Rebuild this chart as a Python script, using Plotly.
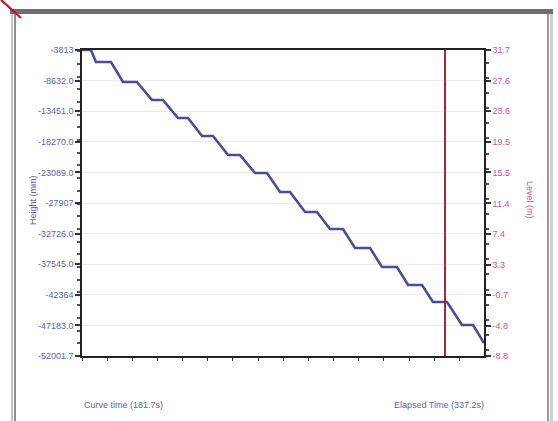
import plotly.graph_objects as go

# Staircase curve: elapsed time (s) vs depth
time_s = [0, 7.5, 11.7, 24.3, 34.4, 46.1, 58.7, 67.9, 80.5, 88.9, 100.7, 109.9,
          122.5, 132.5, 145.1, 155.2, 166.1, 174.5, 187.1, 197.1, 208.0, 218.9,
          229.0, 241.6, 251.6, 264.2, 273.5, 285.2, 294.4, 306.2, 318.7, 328.0, 337.2]
depth = [-3813, -3813, -5703, -5703, -8852, -8852, -11687, -11687, -14522, -14522,
         -17356, -17356, -20348, -20348, -23183, -23183, -26175, -26175, -29325, -29325,
         -32002, -32002, -34994, -34994, -37986, -37986, -40821, -40821, -43498, -43498,
         -47120, -47120, -49954]

marker_time = 304.5

left_ticks = [-3813, -8632, -13451, -18270, -23089, -27907, -32726, -37545, -42364, -47183, -52001.7]
left_labels = ["-3813", "-8632.0", "-13451.0", "-18270.0", "-23089.0", "-27907",
               "-32726.0", "-37545.0", "-42364", "-47183.0", "-52001.7"]
right_ticks = [31.7, 27.6, 23.6, 19.5, 15.5, 11.4, 7.4, 3.3, -0.7, -4.8, -8.8]
right_labels = ["31.7", "27.6", "23.6", "19.5", "15.5", "11.4", "7.4", "3.3", "-0.7", "-4.8", "-8.8"]

left_title = "Height (mm)"
right_title = "Level (m)"
curve_text = "Curve time (181.7s)"
elapsed_text = "Elapsed Time (337.2s)"

BLUE = "#5b5fb5"
PINK = "#e0508a"
LINE = "#4c4c9c"
FONT = "Liberation Sans Narrow, Liberation Sans, Arial, sans-serif"

fig = go.Figure()
fig.add_trace(go.Scatter(x=time_s, y=depth, mode="lines",
                         line=dict(color=LINE, width=2.6), showlegend=False,
                         hoverinfo="skip"))
# invisible trace to activate right axis
fig.add_trace(go.Scatter(x=[0, 337.2], y=[right_ticks[0], right_ticks[-1]], yaxis="y2",
                         mode="lines", line=dict(width=0), opacity=0,
                         showlegend=False, hoverinfo="skip"))

fig.add_shape(type="line", xref="x", yref="paper", x0=marker_time, x1=marker_time,
              y0=0, y1=1, line=dict(color="#a0141c", width=1.8))

# window frame decorations
frame = [
    dict(x0=10, x1=553, y0=9, y1=14, fill="#6f6f6f"),
    dict(x0=11, x1=13, y0=14, y1=421, fill="#c4c4c4"),
    dict(x0=14, x1=16, y0=14, y1=421, fill="#8e8e8e"),
    dict(x0=547, x1=549, y0=14, y1=421, fill="#9a9a9a"),
    dict(x0=550, x1=553, y0=14, y1=421, fill="#cfcfcf"),
]
L, R, T, B = 82, 484, 50, 356
def px(xp):
    return (xp - L) / (R - L)
def py(yp):
    return (B - yp) / (B - T)
for f in frame:
    fig.add_shape(type="rect", xref="paper", yref="paper",
                  x0=px(f["x0"]), x1=px(f["x1"]), y0=py(f["y1"]), y1=py(f["y0"]),
                  fillcolor=f["fill"], line=dict(width=0), layer="above")
fig.add_shape(type="line", xref="paper", yref="paper", x0=px(1), y0=py(0),
              x1=px(21), y1=py(18), line=dict(color="#c8102e", width=2.2))

fig.add_annotation(text=left_title, xref="paper", yref="paper", x=px(26), y=py(200),
                   textangle=-90, showarrow=False, font=dict(family=FONT, size=9, color=BLUE))
fig.add_annotation(text=right_title, xref="paper", yref="paper", x=px(537), y=py(200),
                   textangle=90, showarrow=False, font=dict(family=FONT, size=9, color=PINK))
fig.add_annotation(text=curve_text, xref="paper", yref="paper", x=px(82), y=py(405),
                   xanchor="left", yanchor="middle", showarrow=False,
                   font=dict(family=FONT, size=9, color=BLUE))
fig.add_annotation(text=elapsed_text, xref="paper", yref="paper", x=px(486), y=py(405),
                   xanchor="right", yanchor="middle", showarrow=False,
                   font=dict(family=FONT, size=9, color=BLUE))

fig.update_layout(
    width=558, height=421,
    margin=dict(l=L, r=558 - R, t=T, b=421 - B),
    paper_bgcolor="white", plot_bgcolor="white",
    font=dict(family=FONT, size=9),
    xaxis=dict(range=[0, 337.2], showticklabels=False, ticks="outside", ticklen=3,
               tickcolor="#333", dtick=21.1, showgrid=False, zeroline=False,
               showline=True, linecolor="#222", linewidth=1.5, mirror=True),
    yaxis=dict(range=[-52001.7, -3813], tickvals=left_ticks, ticktext=left_labels,
               ticks="outside", ticklen=5, tickcolor="#333", tickwidth=1.5,
               tickfont=dict(family=FONT, size=9, color=BLUE),
               minor=dict(ticks="outside", ticklen=3, tickcolor="#555", nticks=6,
                          showgrid=False),
               showgrid=True, gridcolor="#ececec", gridwidth=1, zeroline=False,
               showline=True, linecolor="#222", linewidth=1.5),
    yaxis2=dict(range=[-8.8, 31.7], overlaying="y", side="right",
                tickvals=right_ticks, ticktext=right_labels,
                ticks="outside", ticklen=5, tickcolor="#333", tickwidth=1.5,
                tickfont=dict(family=FONT, size=9, color=PINK),
                minor=dict(ticks="outside", ticklen=3, tickcolor="#555", nticks=6),
                showgrid=False, zeroline=False, showline=True, linecolor="#222",
                linewidth=1.5),
)

fig.write_html("out.html", config={"displayModeBar": False},
               post_script="document.body.style.margin='0';document.body.style.overflow='hidden';")
